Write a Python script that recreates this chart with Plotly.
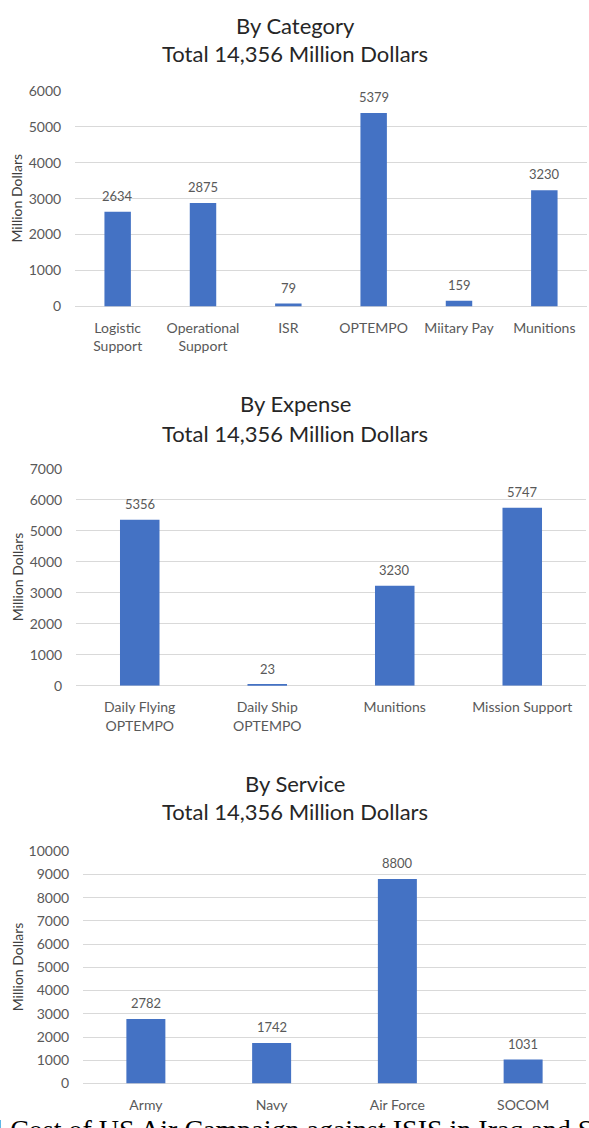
import plotly.graph_objects as go
from plotly.subplots import make_subplots

# Cost breakdowns (million dollars)
category_labels = ["Logistic<br>Support", "Operational<br>Support", "ISR", "OPTEMPO", "Miitary Pay", "Munitions"]
category_values = [2634, 2875, 79, 5379, 159, 3230]

expense_labels = ["Daily Flying<br>OPTEMPO", "Daily Ship<br>OPTEMPO", "Munitions", "Mission Support"]
expense_values = [5356, 23, 3230, 5747]

service_labels = ["Army", "Navy", "Air Force", "SOCOM"]
service_values = [2782, 1742, 8800, 1031]

panel_titles = ["By Category", "By Expense", "By Service"]
subtitle = "Total 14,356 Million Dollars"
y_ranges = [6000, 7000, 10000]
y_dticks = [1000, 1000, 1000]
caption = "Total Cost of US Air Campaign against ISIS in Iraq and Syria"

W, H = 589, 1128
FONT = "Lato"
BAR = "#4472C4"
GRID = "#d9d9d9"
LABEL = "#595959"


def py(px):
    return 1 - px / H


def px_x(px):
    return px / W


# pixel boxes of each plot area: (left, right, top, bottom)
boxes = [(75, 587, 83, 302), (76, 586, 467, 687), (83, 586, 855, 1091)]
title_rows = [(17, 45), (401, 431), (786, 815)]

fig = make_subplots(rows=3, cols=1)

series = [
    (category_labels, category_values),
    (expense_labels, expense_values),
    (service_labels, service_values),
]

annotations = []
for i, (labels, values) in enumerate(series):
    fig.add_trace(
        go.Bar(
            x=labels,
            y=values,
            marker=dict(color=BAR, line=dict(width=0)),
            width=0.31,
            showlegend=False,
        ),
        row=i + 1,
        col=1,
    )
    # value labels above each bar
    xr = "x" if i == 0 else f"x{i + 1}"
    yr = "y" if i == 0 else f"y{i + 1}"
    for lab, v in zip(labels, values):
        annotations.append(dict(
            text=str(v), x=lab, y=v, xref=xr, yref=yr,
            xanchor="center", yanchor="middle", yshift=16, showarrow=False,
            font=dict(family=FONT, size=13, color=LABEL),
        ))

for i in range(3):
    l, r, t, b = boxes[i]
    xa = "xaxis" if i == 0 else f"xaxis{i + 1}"
    ya = "yaxis" if i == 0 else f"yaxis{i + 1}"
    fig.layout[xa].update(
        domain=[px_x(l), px_x(r)],
        showgrid=False,
        showline=False,
        ticks="outside",
        ticklen=9,
        tickcolor="rgba(0,0,0,0)",
        tickfont=dict(family=FONT, size=14, color=LABEL),
        fixedrange=True,
    )
    fig.layout[ya].update(
        domain=[py(b), py(t)],
        range=[0, y_ranges[i]],
        dtick=y_dticks[i],
        tickformat="d",
        showgrid=True,
        gridcolor=GRID,
        gridwidth=1,
        zeroline=True,
        zerolinecolor=GRID,
        zerolinewidth=1,
        showline=False,
        ticks="outside",
        ticklen=10,
        tickcolor="rgba(0,0,0,0)",
        tickfont=dict(family=FONT, size=14, color=LABEL),
        fixedrange=True,
    )
    t1, t2 = title_rows[i]
    annotations.append(dict(
        text=panel_titles[i], x=px_x(295), y=py(t1), xref="paper", yref="paper",
        xanchor="center", yanchor="middle", showarrow=False,
        font=dict(family=FONT, size=22, color="#262626"),
    ))
    annotations.append(dict(
        text=subtitle, x=px_x(295), y=py(t2), xref="paper", yref="paper",
        xanchor="center", yanchor="middle", showarrow=False,
        font=dict(family=FONT, size=22, color="#262626"),
    ))
    annotations.append(dict(
        text="Million Dollars", x=px_x(17), y=py((t + b) / 2), xref="paper", yref="paper",
        xanchor="center", yanchor="middle", textangle=-90, showarrow=False,
        font=dict(family=FONT, size=14, color="#404040"),
    ))

annotations.append(dict(
    text=caption, x=px_x(-56), y=py(1120), xref="paper", yref="paper",
    xanchor="left", yanchor="top", showarrow=False,
    font=dict(family="Liberation Serif", size=28, color="#000000"),
))

fig.update_layout(
    width=W,
    height=H,
    margin=dict(l=0, r=0, t=0, b=0),
    paper_bgcolor="white",
    plot_bgcolor="white",
    annotations=annotations,
    bargap=0.69,
)

fig.write_html("out.html", config={"displayModeBar": False})
